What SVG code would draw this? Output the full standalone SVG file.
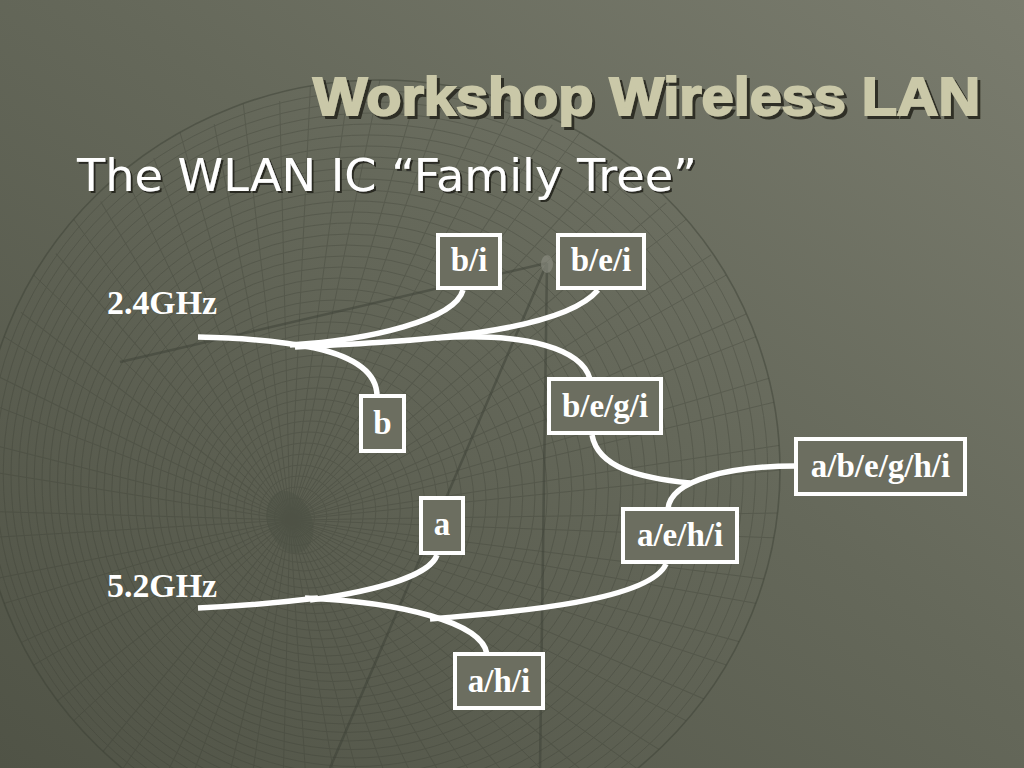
<svg xmlns="http://www.w3.org/2000/svg" width="1024" height="768" viewBox="0 0 1024 768">
  <defs>
    <linearGradient id="bg" x1="0" y1="1" x2="1" y2="0">
      <stop offset="0" stop-color="#505346"/>
      <stop offset="0.55" stop-color="#65685a"/>
      <stop offset="1" stop-color="#7a7c6e"/>
    </linearGradient>
    <clipPath id="rim">
      <ellipse cx="380" cy="470" rx="400" ry="390"/>
    </clipPath>
    <filter id="shTitle" x="-5%" y="-30%" width="110%" height="160%">
      <feDropShadow dx="3" dy="3" stdDeviation="0.6" flood-color="#2a2c24" flood-opacity="0.95"/>
    </filter>
    <filter id="shSub" x="-5%" y="-30%" width="110%" height="160%">
      <feDropShadow dx="2" dy="2" stdDeviation="0.6" flood-color="#1c1e17" flood-opacity="0.85"/>
    </filter>
    <style>
      .grid { fill: none; stroke: #3a3d33; stroke-width: 1; }
      .arm { fill: none; stroke: #3c3f35; stroke-width: 2.5; opacity: 0.5; }
      .conn { fill: none; stroke: #ffffff; stroke-width: 5.5; stroke-linecap: butt; }
      .box { fill: #6c6e60; stroke: #ffffff; stroke-width: 4; }
      .lbl { font-family: "Liberation Serif", "Times New Roman", serif; font-weight: bold; font-size: 33px; fill: #ffffff; text-anchor: middle; }
      .band { font-family: "Liberation Serif", "Times New Roman", serif; font-weight: bold; font-size: 33px; fill: #ffffff; }
      .title { font-family: "Liberation Sans", Arial, sans-serif; font-weight: bold; font-size: 53px; }
      .sub { font-family: "DejaVu Sans", Verdana, sans-serif; font-size: 44px; }
    </style>
  </defs>

  <rect x="0" y="0" width="1024" height="768" fill="url(#bg)"/>

  <!-- background dish texture -->
  <g id="background-dish">
    <g class="grid" clip-path="url(#rim)" opacity="0.3">
      <ellipse cx="292.25" cy="518.75" rx="10" ry="9.75"/>
      <ellipse cx="294.5" cy="517.5" rx="20" ry="19.5"/>
      <ellipse cx="296.75" cy="516.25" rx="30" ry="29.25"/>
      <ellipse cx="299" cy="515" rx="40" ry="39"/>
      <ellipse cx="301.25" cy="513.75" rx="50" ry="48.75"/>
      <ellipse cx="303.5" cy="512.5" rx="60" ry="58.5"/>
      <ellipse cx="305.75" cy="511.25" rx="70" ry="68.25"/>
      <ellipse cx="308" cy="510" rx="80" ry="78"/>
      <ellipse cx="310.25" cy="508.75" rx="90" ry="87.75"/>
      <ellipse cx="312.5" cy="507.5" rx="100" ry="97.5"/>
      <ellipse cx="314.75" cy="506.25" rx="110" ry="107.25"/>
      <ellipse cx="317" cy="505" rx="120" ry="117"/>
      <ellipse cx="319.25" cy="503.75" rx="130" ry="126.75"/>
      <ellipse cx="321.5" cy="502.5" rx="140" ry="136.5"/>
      <ellipse cx="323.75" cy="501.25" rx="150" ry="146.25"/>
      <ellipse cx="326" cy="500" rx="160" ry="156"/>
      <ellipse cx="328.25" cy="498.75" rx="170" ry="165.75"/>
      <ellipse cx="330.5" cy="497.5" rx="180" ry="175.5"/>
      <ellipse cx="332.75" cy="496.25" rx="190" ry="185.25"/>
      <ellipse cx="335" cy="495" rx="200" ry="195"/>
      <ellipse cx="337.25" cy="493.75" rx="210" ry="204.75"/>
      <ellipse cx="339.5" cy="492.5" rx="220" ry="214.5"/>
      <ellipse cx="341.75" cy="491.25" rx="230" ry="224.25"/>
      <ellipse cx="344" cy="490" rx="240" ry="234"/>
      <ellipse cx="346.25" cy="488.75" rx="250" ry="243.75"/>
      <ellipse cx="348.5" cy="487.5" rx="260" ry="253.5"/>
      <ellipse cx="350.75" cy="486.25" rx="270" ry="263.25"/>
      <ellipse cx="353" cy="485" rx="280" ry="273"/>
      <ellipse cx="355.25" cy="483.75" rx="290" ry="282.75"/>
      <ellipse cx="357.5" cy="482.5" rx="300" ry="292.5"/>
      <ellipse cx="359.75" cy="481.25" rx="310" ry="302.25"/>
      <ellipse cx="362" cy="480" rx="320" ry="312"/>
      <ellipse cx="364.25" cy="478.75" rx="330" ry="321.75"/>
      <ellipse cx="366.5" cy="477.5" rx="340" ry="331.5"/>
      <ellipse cx="368.75" cy="476.25" rx="350" ry="341.25"/>
      <ellipse cx="371" cy="475" rx="360" ry="351"/>
      <ellipse cx="373.25" cy="473.75" rx="370" ry="360.75"/>
      <ellipse cx="375.5" cy="472.5" rx="380" ry="370.5"/>
      <ellipse cx="377.75" cy="471.25" rx="390" ry="380.25"/>
      <path id="radials" d="M290,520 L780,470 M290,520 L774,537.8 M290,520 L756,603.4 M290,520 L726.4,665 M290,520 L686.4,720.8 M290,520 L637.2,768.7 M290,520 L580,807.7 M290,520 L516.8,836.6 M290,520 L449.6,854.2 M290,520 L380,860 M290,520 L310.4,854.2 M290,520 L243.2,836.6 M290,520 L180,807.7 M290,520 L122.8,768.7 M290,520 L73.6,720.8 M290,520 L33.6,665 M290,520 L4,603.4 M290,520 L-14,537.8 M290,520 L-20,470 M290,520 L-14,402.2 M290,520 L4,336.6 M290,520 L33.6,275 M290,520 L73.6,219.2 M290,520 L122.8,171.3 M290,520 L180,132.3 M290,520 L243.2,103.4 M290,520 L310.4,85.8 M290,520 L380,80 M290,520 L449.6,85.8 M290,520 L516.8,103.4 M290,520 L580,132.3 M290,520 L637.2,171.3 M290,520 L686.4,219.2 M290,520 L726.4,275 M290,520 L756,336.6 M290,520 L774,402.2"/>
      <use href="#radials" transform="rotate(5 290 520) translate(0 0) scale(1)"/>
    </g>
    <ellipse cx="380" cy="470" rx="400" ry="390" fill="none" stroke="#3a3d33" stroke-width="1.6" opacity="0.45"/>
    <ellipse cx="290" cy="522" rx="22" ry="32" transform="rotate(-20 290 522)" fill="#4c4f43" opacity="0.4"/>
    <path class="arm" d="M547,263 L120,362 M547,263 L540,768 M547,263 L330,768"/>
    <ellipse cx="547" cy="264" rx="6" ry="9" fill="#8d8f83" opacity="0.6"/>
  </g>

  <!-- titles -->
  <g id="title">
    <text class="title" x="313" y="115" textLength="667" lengthAdjust="spacingAndGlyphs" fill="#cac8a8" stroke="#cac8a8" stroke-width="2" filter="url(#shTitle)">Workshop Wireless LAN</text>
  </g>
  <g id="subtitle">
    <text class="sub" x="77" y="191" textLength="620" lengthAdjust="spacingAndGlyphs" fill="#ffffff" filter="url(#shSub)">The WLAN IC “Family Tree”</text>
  </g>

  <!-- band labels -->
  <g id="label-24">
    <text class="band" x="107" y="314" textLength="110" lengthAdjust="spacingAndGlyphs">2.4GHz</text>
  </g>
  <g id="label-52">
    <text class="band" x="107" y="597" textLength="110" lengthAdjust="spacingAndGlyphs">5.2GHz</text>
  </g>

  <!-- connectors -->
  <g id="connectors">
    <path class="conn" d="M198,337 C250,338 285,342 315,348 C350,356 377,370 377,396"/>
    <path class="conn" d="M290,345 C370,340 455,320 463,290"/>
    <path class="conn" d="M295,347 C400,342 560,335 598,290"/>
    <path class="conn" d="M436,338 C530,332 582,350 590,379"/>
    <path class="conn" d="M592,435 C598,468 640,478 690,483"/>
    <path class="conn" d="M796,466 C730,466 670,480 668,509"/>
    <path class="conn" d="M198,608 C240,606 285,602 318,598"/>
    <path class="conn" d="M310,600 C380,590 430,575 437,555"/>
    <path class="conn" d="M305,598 C400,602 482,622 487,654"/>
    <path class="conn" d="M430,619 C520,612 650,600 666,564"/>
  </g>

  <!-- nodes -->
  <g id="node-bi">
    <rect class="box" x="438" y="235" width="62" height="53"/>
    <text class="lbl" x="469" y="271">b/i</text>
  </g>
  <g id="node-bei">
    <rect class="box" x="558" y="235" width="86" height="53"/>
    <text class="lbl" x="601" y="271">b/e/i</text>
  </g>
  <g id="node-b">
    <rect class="box" x="361" y="396" width="43" height="55"/>
    <text class="lbl" x="382.5" y="434">b</text>
  </g>
  <g id="node-begi">
    <rect class="box" x="549" y="379" width="112" height="54"/>
    <text class="lbl" x="605" y="417">b/e/g/i</text>
  </g>
  <g id="node-abeghi">
    <rect class="box" x="796" y="439" width="169" height="55"/>
    <text class="lbl" x="880.5" y="477">a/b/e/g/h/i</text>
  </g>
  <g id="node-a">
    <rect class="box" x="421" y="498" width="42" height="55"/>
    <text class="lbl" x="442" y="535">a</text>
  </g>
  <g id="node-aehi">
    <rect class="box" x="623" y="509" width="114" height="53"/>
    <text class="lbl" x="680" y="546">a/e/h/i</text>
  </g>
  <g id="node-ahi">
    <rect class="box" x="455" y="654" width="88" height="54"/>
    <text class="lbl" x="499" y="692">a/h/i</text>
  </g>
</svg>
